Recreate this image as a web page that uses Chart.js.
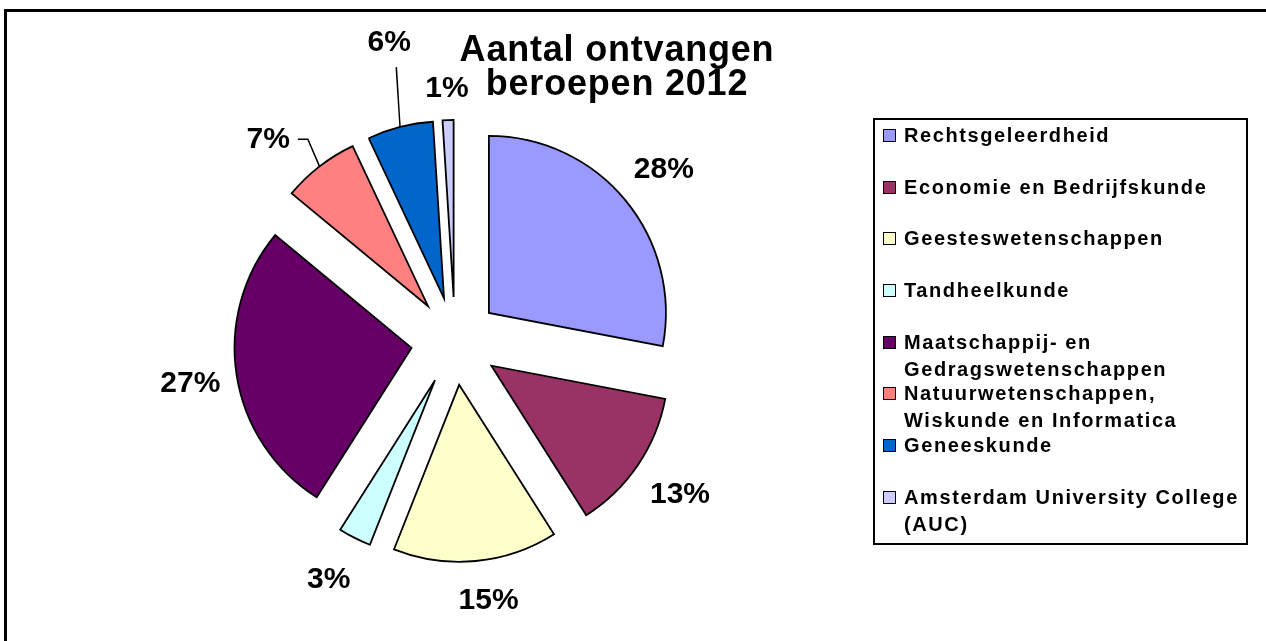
<!DOCTYPE html>
<html>
<head>
<meta charset="utf-8">
<title>Aantal ontvangen beroepen 2012</title>
<script src="https://cdn.jsdelivr.net/npm/chart.js@4.4.1/dist/chart.umd.min.js"></script>
<style>
    html, body { margin: 0; padding: 0; background: #fff; overflow: hidden; }
    body { width: 1266px; height: 641px; position: relative; font-family: "Liberation Sans", Arial, sans-serif; }
    #frame { position: absolute; left: 4px; top: 9px; width: 1400px; height: 800px; border: 3px solid #000; }
    #c { position: absolute; left: 0; top: 0; }
    #title {
        position: absolute; left: 417px; top: 32px; width: 400px;
        text-align: center; font-weight: bold; font-size: 36px; line-height: 34px;
        letter-spacing: 0.8px; color: #000;
    }
    #legend {
        position: absolute; left: 873px; top: 118px; width: 375px; height: 427px;
        box-sizing: border-box; border: 2px solid #000; padding-top: 2px;
    }
    #legend .item { position: relative; height: 51.7px; }
    #legend .box {
        position: absolute; left: 8px; top: 7px; width: 11px; height: 11px;
        border: 1px solid #000;
    }
    #legend .txt {
        position: absolute; left: 29px; top: 0; white-space: nowrap;
        font-weight: bold; font-size: 20px; line-height: 27px; letter-spacing: 1.6px;
    }
</style>
</head>
<body>
<div id="frame"></div>
<canvas id="c" width="1266" height="641"></canvas>
<div id="title">Aantal ontvangen<br>beroepen 2012</div>
<div id="legend"></div>

<script>
// data (share of appeals per faculty, in %)
const categories = [
    'Rechtsgeleerdheid',
    'Economie en Bedrijfskunde',
    'Geesteswetenschappen',
    'Tandheelkunde',
    ['Maatschappij- en', 'Gedragswetenschappen'],
    ['Natuurwetenschappen,', 'Wiskunde en Informatica'],
    'Geneeskunde',
    ['Amsterdam University College', '(AUC)']
];
const values = [28, 13, 15, 3, 27, 7, 6, 1];
const colors = ['#9999FF', '#993366', '#FFFFCC', '#CCFFFF', '#660066', '#FF8080', '#0066CC', '#CCCCFF'];

// label placement tweaks (distance from centre, angle nudge in degrees, leader style)
const labelDist = [271, 272, 261, 269, 268, 275, 306, 253];
const labelNudge = [0, 0, -2, 1, 0, -5, 2, 0];
const leaders = [null, null, null, null, null, 'elbow', 'below', null];

// slices pulled out from the centre, drawn through the arc elements themselves
const explodePlugin = {
    id: 'explode',
    beforeDatasetDraw(chart, args, opts) {
        const ctx = chart.ctx;
        args.meta.data.forEach(function(arc) {
            const mid = (arc.startAngle + arc.endAngle) / 2;
            ctx.save();
            ctx.translate(Math.cos(mid) * opts.distance, Math.sin(mid) * opts.distance);
            arc.draw(ctx);
            ctx.restore();
        });
        return false;
    }
};

// percentage labels outside the slices
const pctLabels = {
    id: 'pctLabels',
    afterDatasetsDraw(chart, args, opts) {
        const ctx = chart.ctx;
        const data = chart.data.datasets[0].data;
        const total = data.reduce((a, b) => a + b, 0);
        const explode = chart.options.plugins.explode.distance;
        ctx.save();
        ctx.font = 'bold 30px "Liberation Sans", Arial, sans-serif';
        ctx.fillStyle = '#000';
        ctx.strokeStyle = '#000';
        ctx.lineWidth = 1.5;
        ctx.textAlign = 'center';
        ctx.textBaseline = 'middle';
        chart.getDatasetMeta(0).data.forEach(function(arc, i) {
            const mid = (arc.startAngle + arc.endAngle) / 2;
            const a = mid + labelNudge[i] * Math.PI / 180;
            const x = arc.x + Math.cos(a) * labelDist[i];
            const y = arc.y + Math.sin(a) * labelDist[i];
            const text = Math.round(data[i] / total * 100) + '%';
            ctx.fillText(text, x, y + 1);

            if (leaders[i]) {
                const r = arc.outerRadius + explode;
                const px = arc.x + Math.cos(mid) * r;
                const py = arc.y + Math.sin(mid) * r;
                const w = ctx.measureText(text).width;
                ctx.beginPath();
                if (leaders[i] === 'elbow') {
                    ctx.moveTo(x + w / 2 + 8, y);
                    ctx.lineTo(x + w / 2 + 18, y);
                } else {
                    ctx.moveTo(x + 7, y + 25);
                }
                ctx.lineTo(px, py);
                ctx.stroke();
            }
        });
        ctx.restore();
    }
};

const chart = new Chart(document.getElementById('c'), {
    type: 'pie',
    data: {
        labels: categories,
        datasets: [{
            data: values,
            backgroundColor: colors,
            borderColor: '#000',
            borderWidth: 1.8,
            borderJoinStyle: 'miter',
            radius: 177
        }]
    },
    options: {
        responsive: false,
        animation: false,
        layout: { padding: { left: 0, right: 356, top: 41, bottom: 0 } },
        plugins: {
            legend: { display: false },
            title: { display: false },
            tooltip: { enabled: false },
            explode: { distance: 44 }
        }
    },
    plugins: [explodePlugin, pctLabels]
});

// legend box on the right
const legendEl = document.getElementById('legend');
categories.forEach(function(label, i) {
    const item = document.createElement('div');
    item.className = 'item';
    const box = document.createElement('span');
    box.className = 'box';
    box.style.background = colors[i];
    const txt = document.createElement('span');
    txt.className = 'txt';
    txt.innerHTML = [].concat(label).join('<br>');
    item.appendChild(box);
    item.appendChild(txt);
    legendEl.appendChild(item);
});
</script>
</body>
</html>
